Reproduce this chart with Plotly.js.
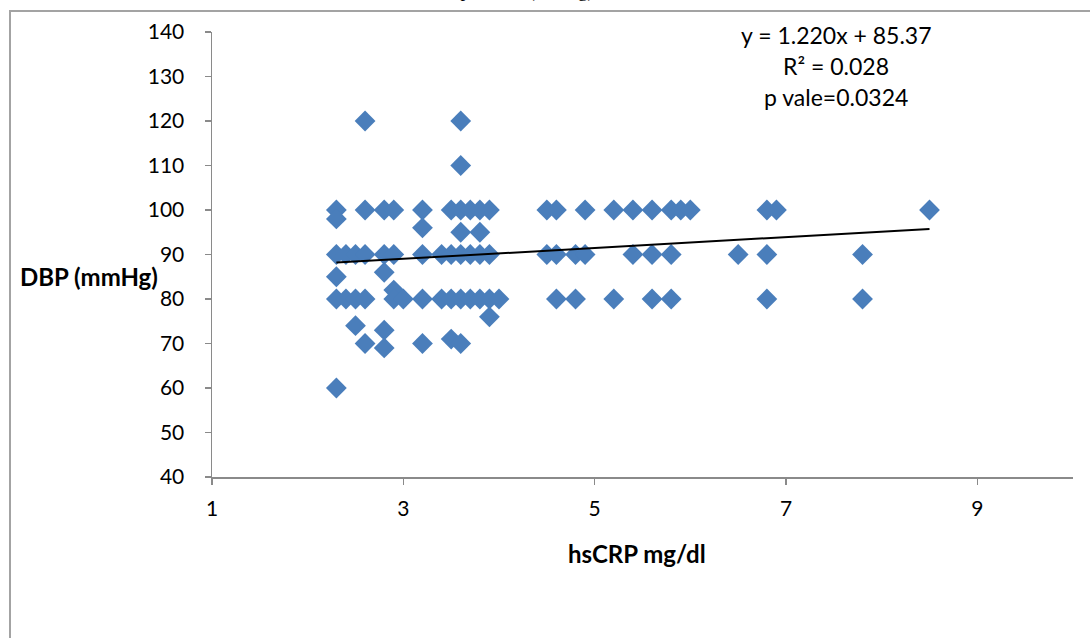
<!DOCTYPE html>
<html>
<head>
<meta charset="utf-8">
<script src="https://cdn.plot.ly/plotly-3.0.1.min.js"></script>
<style>
  html, body { margin: 0; padding: 0; background: #ffffff; }
  #wrap { position: relative; width: 1090px; height: 638px; overflow: hidden; }
  #chart { position: absolute; left: 0; top: 0; width: 1090px; height: 638px; }
  #frame { position: absolute; left: 9px; top: 10px; width: 1200px; height: 800px;
           border-left: 2px solid #a3a3a3; border-top: 2px solid #a3a3a3; pointer-events: none; }
</style>
</head>
<body>
<div id="wrap">
  <div id="chart"></div>
  <div id="frame"></div>
</div>
<script>
// hsCRP (mg/dl) values and matching DBP (mmHg) values
const hsCRP = [
  2.3, 2.3, 2.3, 2.3, 2.3, 2.3,
  2.4, 2.4,
  2.5, 2.5, 2.5,
  2.6, 2.6, 2.6, 2.6, 2.6,
  2.8, 2.8, 2.8, 2.8, 2.8,
  2.9, 2.9, 2.9, 2.9,
  3.0,
  3.2, 3.2, 3.2, 3.2, 3.2,
  3.4, 3.4,
  3.5, 3.5, 3.5, 3.5,
  3.6, 3.6, 3.6, 3.6, 3.6, 3.6, 3.6,
  3.7, 3.7, 3.7,
  3.8, 3.8, 3.8, 3.8,
  3.9, 3.9, 3.9, 3.9,
  4.0,
  4.5, 4.5,
  4.6, 4.6, 4.6,
  4.8, 4.8,
  4.9, 4.9,
  5.2, 5.2,
  5.4, 5.4,
  5.6, 5.6, 5.6,
  5.8, 5.8, 5.8,
  5.9,
  6.0,
  6.5,
  6.8, 6.8, 6.8,
  6.9,
  7.8, 7.8,
  8.5
];
const DBP = [
  100, 98, 90, 85, 80, 60,
  90, 80,
  90, 80, 74,
  120, 100, 90, 80, 70,
  100, 90, 86, 73, 69,
  100, 90, 82, 80,
  80,
  100, 96, 90, 80, 70,
  90, 80,
  100, 90, 80, 71,
  120, 110, 100, 95, 90, 80, 70,
  100, 90, 80,
  100, 95, 90, 80,
  100, 90, 80, 76,
  80,
  100, 90,
  100, 90, 80,
  90, 80,
  100, 90,
  100, 80,
  100, 90,
  100, 90, 80,
  100, 90, 80,
  100,
  100,
  90,
  100, 90, 80,
  100,
  90, 80,
  100
];
// Linear trend line reported on the chart
const trendSlope = 1.220;
const trendIntercept = 85.37;
const statLines = ["y = 1.220x + 85.37", "R\u00b2 = 0.028", "p vale=0.0324"];
const xTicks = [1, 3, 5, 7, 9];
const yTicks = [40, 50, 60, 70, 80, 90, 100, 110, 120, 130, 140];
const xTitle = "hsCRP mg/dl";
const yTitle = "DBP (mmHg)";
const chartTitle = "Diastolic blood pressure (mmHg)";

// layout geometry (pixels)
const W = 1090, H = 638;
const M = { l: 212, r: 17, t: 32, b: 161 };
const PW = W - M.l - M.r, PH = H - M.t - M.b;
const px2x = p => (p - M.l) / PW;          // pixel x -> paper x
const py2y = p => (H - M.b - p) / PH;      // pixel y -> paper y

const xMin = Math.min(...hsCRP), xMax = Math.max(...hsCRP);
const trendX = [xMin, xMax];
const trendY = trendX.map(v => trendSlope * v + trendIntercept);

const AX = '#8a8a8a';
const FONT = 'Lato, "Open Sans", sans-serif';

const traces = [
  {
    type: 'scatter', mode: 'markers', x: hsCRP, y: DBP,
    marker: { symbol: 'diamond', size: 16, color: '#4a7ebb', line: { width: 0 } },
    hoverinfo: 'x+y', showlegend: false
  },
  {
    type: 'scatter', mode: 'lines', x: trendX, y: trendY,
    line: { color: '#000000', width: 2 }, hoverinfo: 'skip', showlegend: false
  }
];

const statY = [35, 66, 97];
const annotations = statLines.map((t, i) => ({
  text: t, xref: 'paper', yref: 'paper', x: px2x(836), y: py2y(statY[i]),
  xanchor: 'center', yanchor: 'middle', showarrow: false,
  font: { family: FONT, size: 23, color: '#000' }
}));
annotations.push({
  text: '<b>' + yTitle + '</b>', xref: 'paper', yref: 'paper', x: px2x(89), y: py2y(276),
  xanchor: 'center', yanchor: 'middle', showarrow: false,
  font: { family: FONT, size: 24, color: '#000' }
});
annotations.push({
  text: '<b>' + xTitle + '</b>', xref: 'paper', yref: 'paper', x: px2x(637), y: py2y(553),
  xanchor: 'center', yanchor: 'middle', showarrow: false,
  font: { family: FONT, size: 24, color: '#000' }
});
annotations.push({
  text: chartTitle, xref: 'paper', yref: 'paper', x: px2x(596), y: py2y(-9),
  xanchor: 'right', yanchor: 'middle', showarrow: false,
  font: { family: '"Liberation Serif", "Times New Roman", serif', size: 19, color: '#000' }
});

const layout = {
  width: W, height: H,
  margin: M,
  paper_bgcolor: 'rgba(0,0,0,0)', plot_bgcolor: 'rgba(0,0,0,0)',
  showlegend: false,
  xaxis: {
    range: [1, 10], tickvals: xTicks, ticktext: xTicks.map(String),
    showline: true, linecolor: AX, linewidth: 1.5,
    ticks: 'outside', ticklen: 6, tickcolor: AX, tickwidth: 1.5,
    showgrid: false, zeroline: false, ticklabelstandoff: 6,
    tickfont: { family: FONT, size: 21, color: '#000' }
  },
  yaxis: {
    range: [40, 140], tickvals: yTicks, ticktext: yTicks.map(String),
    showline: true, linecolor: AX, linewidth: 1.5,
    ticks: 'outside', ticklen: 6, tickcolor: AX, tickwidth: 1.5,
    showgrid: false, zeroline: false, ticklabelstandoff: 16,
    tickfont: { family: FONT, size: 21, color: '#000' }
  },
  annotations: annotations
};

Plotly.newPlot('chart', traces, layout, { staticPlot: true, displayModeBar: false });
</script>
</body>
</html>
